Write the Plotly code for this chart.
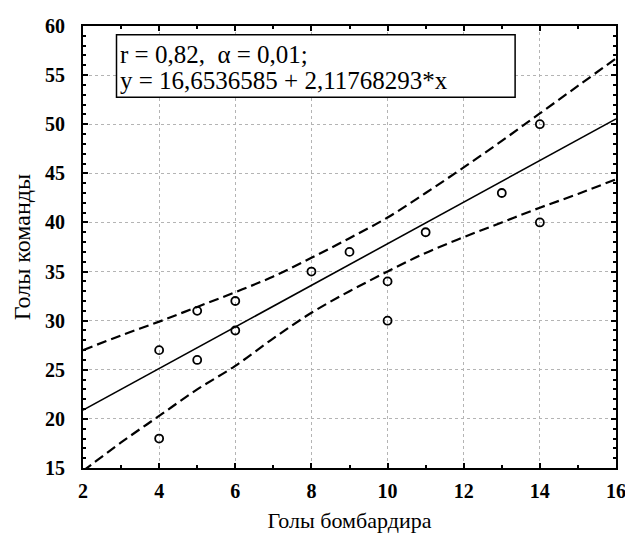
import plotly.graph_objects as go

# Data points
x_pts = [4, 4, 5, 5, 6, 6, 8, 9, 10, 10, 11, 13, 14, 14]
y_pts = [27, 18, 31, 26, 32, 29, 35, 37, 34, 30, 39, 43, 50, 40]

# Regression (from chart text)
intercept = 16.6536585
slope = 2.11768293
line_x = [2, 16]

# Confidence band
band_x = [2, 3, 4, 5, 6, 7, 8, 9, 10, 11, 12, 13, 14, 15, 16]
band_upper = [27.0, 28.5, 29.9, 31.4, 32.9, 34.5, 36.4, 38.4, 40.5, 43.0, 45.6, 48.3, 51.1, 53.9, 56.7]
band_lower = [14.7, 17.6, 20.3, 23.0, 25.4, 28.2, 30.8, 33.0, 35.0, 36.9, 38.5, 40.0, 41.5, 42.9, 44.4]

x_ticks = [2, 4, 6, 8, 10, 12, 14, 16]
y_ticks = [15, 20, 25, 30, 35, 40, 45, 50, 55, 60]

line_y = [intercept + slope * v for v in line_x]

serif = "Liberation Serif, Times New Roman, serif"

fig = go.Figure()
fig.add_trace(go.Scatter(x=band_x, y=band_upper, mode="lines", line=dict(color="black", width=2.2, dash="10px,5px", shape="spline"), showlegend=False))
fig.add_trace(go.Scatter(x=band_x, y=band_lower, mode="lines", line=dict(color="black", width=2.2, dash="10px,5px", shape="spline"), showlegend=False))
fig.add_trace(go.Scatter(x=line_x, y=line_y, mode="lines", line=dict(color="black", width=1.6), showlegend=False))
fig.add_trace(go.Scatter(x=x_pts, y=y_pts, mode="markers",
                         marker=dict(symbol="circle-open", size=8, color="black", line=dict(width=1.8)),
                         showlegend=False))

axis_common = dict(
    showline=True, linecolor="black", linewidth=2, mirror="ticks",
    ticks="inside", ticklen=5, tickwidth=1.5, tickcolor="black",
    showgrid=True, gridcolor="#b4b4b4", griddash="dot", gridwidth=1,
    zeroline=False, ticklabeloverflow="allow",
    tickfont=dict(family=serif, size=20, color="black", weight="bold"),
)

fig.update_xaxes(range=[2, 16], tickvals=x_ticks, ticktext=[str(v) for v in x_ticks],
                 minor=dict(dtick=1, ticks="inside", ticklen=3, tickcolor="black", showgrid=False),
                 ticklabelstandoff=4,
                 title=dict(text="Голы бомбардира", font=dict(family=serif, size=22, color="black"), standoff=12),
                 **axis_common)
fig.update_yaxes(range=[15, 60], tickvals=y_ticks, ticktext=[str(v) for v in y_ticks],
                 minor=dict(dtick=1, ticks="inside", ticklen=3, tickcolor="black", showgrid=False),
                 ticklabelstandoff=12,
                 title=dict(text="Голы команды", font=dict(family=serif, size=24, color="black"), standoff=8),
                 **axis_common)

fig.add_shape(type="rect", xref="x", yref="y", x0=2.88, x1=13.35, y0=52.75, y1=59.1,
              line=dict(color="black", width=1.5), fillcolor="white", layer="above")
fig.add_annotation(x=2.93, y=57.05, xref="x", yref="y", xanchor="left", yanchor="middle",
                   text="r = 0,82,\u00a0\u00a0α = 0,01;", showarrow=False,
                   font=dict(family=serif, size=25, color="black"))
fig.add_annotation(x=2.93, y=54.45, xref="x", yref="y", xanchor="left", yanchor="middle",
                   text="y = 16,6536585 + 2,11768293*x", showarrow=False,
                   font=dict(family=serif, size=25, color="black"))

# page body has an 8px default margin, so the figure is sized to fit the window
fig.update_layout(
    width=625, height=531,
    margin=dict(l=75, r=10, t=7, b=71),
    plot_bgcolor="white", paper_bgcolor="white",
)

fig.write_html("out.html")
